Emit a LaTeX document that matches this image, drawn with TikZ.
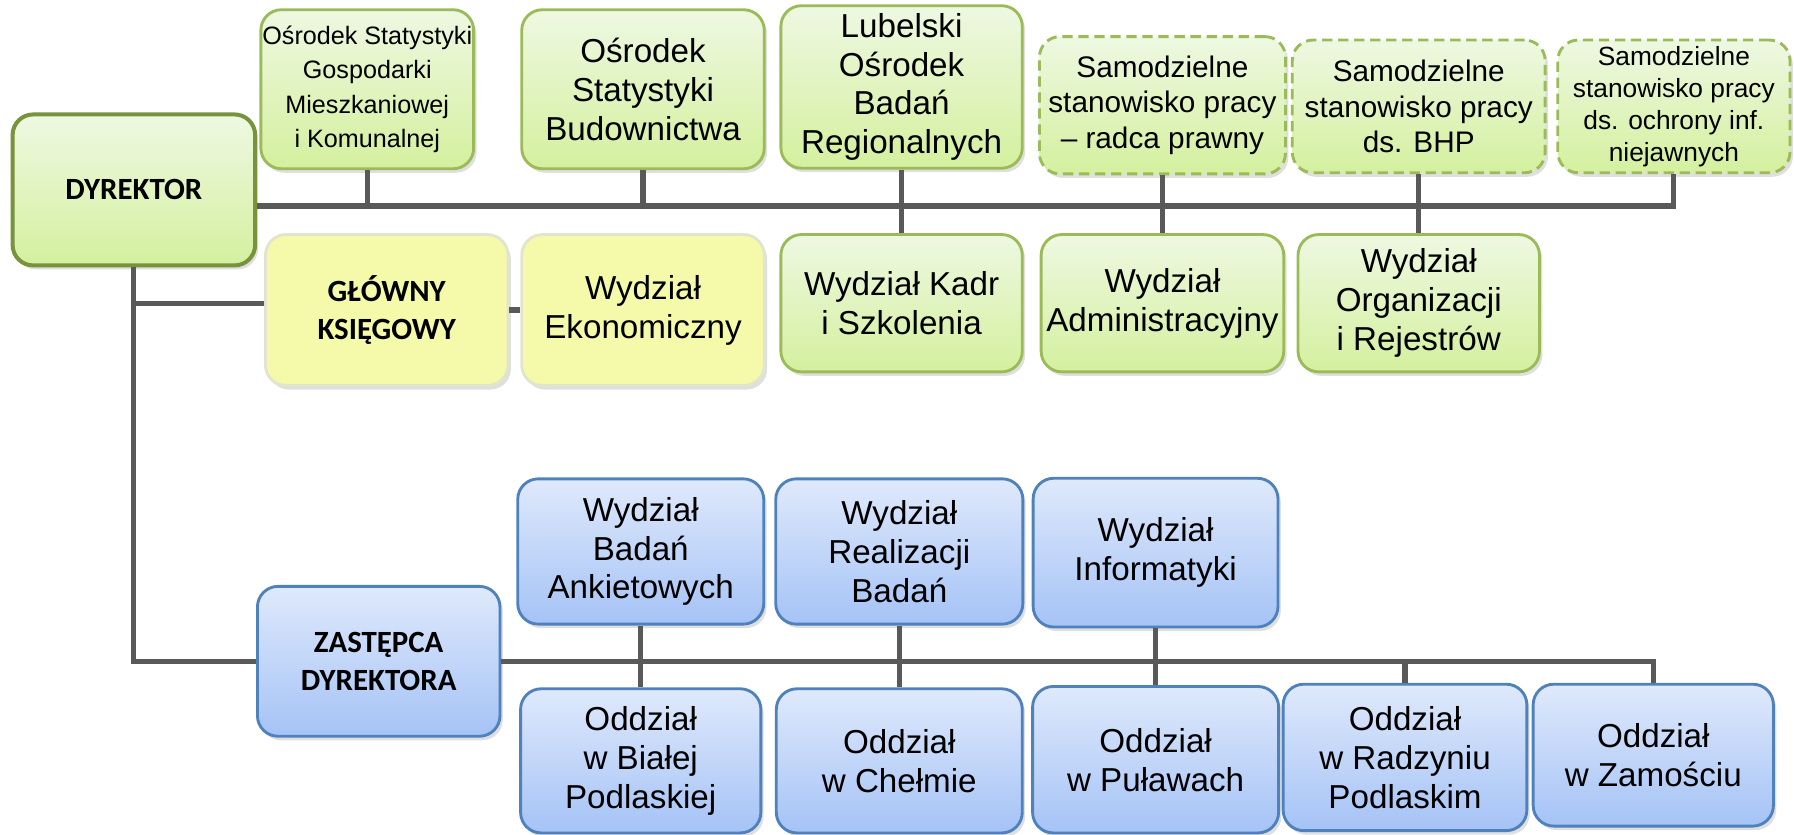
\documentclass[tikz,border=0pt]{standalone}
\usepackage{fontspec}
\setmainfont{Liberation Sans}
\newfontfamily\headfont{Carlito}
\usetikzlibrary{positioning, shadows}

\definecolor{greenline}{RGB}{155,187,89}
\definecolor{greendark}{RGB}{119,147,60}
\definecolor{greentop}{RGB}{238,248,226}
\definecolor{greenbot}{RGB}{212,240,158}
\definecolor{yellowfill}{RGB}{245,250,170}
\definecolor{yellowline}{RGB}{226,229,205}
\definecolor{blueline}{RGB}{79,129,189}
\definecolor{bluetop}{RGB}{223,233,251}
\definecolor{bluebot}{RGB}{165,195,246}
\definecolor{connline}{RGB}{89,89,89}

\begin{document}
\begin{tikzpicture}[
    x=1pt,
    y=-1pt,
    box/.style={rounded corners=18pt, align=center, inner sep=0pt,
        line width=2.5pt, font=\fontsize{29}{34}\selectfont,
        drop shadow={opacity=0.25, shadow xshift=2.5pt, shadow yshift=-3.5pt}},
    unit/.style={box, draw=greenline, top color=greentop, bottom color=greenbot},
    staff/.style={unit, dashed, dash pattern=on 9pt off 5pt},
    chief/.style={unit, draw=greendark, line width=3.5pt,
        font=\headfont\bfseries\fontsize{27}{33}\selectfont},
    acct/.style={box, draw=yellowline, fill=yellowfill,
        font=\headfont\bfseries\fontsize{27}{33}\selectfont},
    acctunit/.style={box, draw=yellowline, fill=yellowfill},
    branch/.style={box, draw=blueline, top color=bluetop, bottom color=bluebot},
    deputy/.style={branch, font=\headfont\bfseries\fontsize{27}{33}\selectfont},
    conn/.style={draw=connline, line width=4.5pt},
]
    \useasboundingbox (0,0) rectangle (1568,729);

    \node[chief,  minimum width=212pt, minimum height=132pt] (dyr)   at (117,166)  {DYREKTOR};

    \node[unit,   minimum width=186pt, minimum height=139pt,
          font=\fontsize{22}{30}\selectfont]                 (osg)   at (321,78)   {Ośrodek Statystyki\\Gospodarki\\Mieszkaniowej\\i Komunalnej};
    \node[unit,   minimum width=212pt, minimum height=139pt] (osb)   at (562,78)   {Ośrodek\\Statystyki\\Budownictwa};
    \node[unit,   minimum width=211pt, minimum height=142pt] (lobr)  at (788,76)   {Lubelski\\Ośrodek\\Badań\\Regionalnych};
    \node[staff,  minimum width=215pt, minimum height=120pt,
          font=\fontsize{26}{31}\selectfont]                 (radca) at (1016,92)  {Samodzielne\\stanowisko pracy\\– radca prawny};
    \node[staff,  minimum width=221pt, minimum height=116pt,
          font=\fontsize{26}{31}\selectfont]                 (bhp)   at (1240,93)  {Samodzielne\\stanowisko pracy\\ds. BHP};
    \node[staff,  minimum width=203pt, minimum height=116pt,
          font=\fontsize{23}{28}\selectfont]                 (ochr)  at (1463,93)  {Samodzielne\\stanowisko pracy\\ds. ochrony inf.\\niejawnych};

    \node[acct,     minimum width=212pt, minimum height=132pt] (gk)    at (338,271)  {GŁÓWNY\\KSIĘGOWY};
    \node[acctunit, minimum width=212pt, minimum height=132pt] (ekon)  at (562,271)  {Wydział\\Ekonomiczny};
    \node[unit,   minimum width=211pt, minimum height=120pt] (kadr)  at (788,265)  {Wydział Kadr\\i Szkolenia};
    \node[unit,   minimum width=212pt, minimum height=120pt] (adm)   at (1016,265) {Wydział\\Administracyjny};
    \node[unit,   minimum width=211pt, minimum height=120pt] (org)   at (1240,265) {Wydział\\Organizacji\\i Rejestrów};

    \node[deputy, minimum width=212pt, minimum height=131pt] (zast)  at (331,578)  {ZASTĘPCA\\DYREKTORA};
    \node[branch, minimum width=215pt, minimum height=127pt] (wba)   at (560,482)  {Wydział\\Badań\\Ankietowych};
    \node[branch, minimum width=216pt, minimum height=127pt] (wrb)   at (786,482)  {Wydział\\Realizacji\\Badań};
    \node[branch, minimum width=214pt, minimum height=130pt] (wi)    at (1010,483) {Wydział\\Informatyki};

    \node[branch, minimum width=210pt, minimum height=126pt] (obp)   at (560,665)  {Oddział\\w Białej\\Podlaskiej};
    \node[branch, minimum width=215pt, minimum height=126pt] (och)   at (786,665)  {Oddział\\w Chełmie};
    \node[branch, minimum width=215pt, minimum height=128pt] (opu)   at (1010,664) {Oddział\\w Puławach};
    \node[branch, minimum width=213pt, minimum height=128pt] (orp)   at (1228,662) {Oddział\\w Radzyniu\\Podlaskim};
    \node[branch, minimum width=210pt, minimum height=124pt] (oza)   at (1445,660) {Oddział\\w Zamościu};

    \coordinate (topbus) at (0,180);
    \coordinate (gkin) at ([yshift=6pt]gk.west);

    \draw[conn] (dyr.east |- topbus) -- (ochr.south |- topbus) -- (ochr.south);
    \draw[conn] (osg.south) -- (osg.south |- topbus);
    \draw[conn] (osb.south) -- (osb.south |- topbus);
    \draw[conn] (lobr.south) -- (kadr.north);
    \draw[conn] (radca.south) -- (adm.north);
    \draw[conn] (bhp.south) -- (org.north);
    \draw[conn] (dyr.south) -- (dyr.south |- zast.west) -- (zast.west);
    \draw[conn] (dyr.south |- gkin) -- (gkin);
    \draw[conn] (gk.east) -- (ekon.west);
    \draw[conn] (zast.east) -- (oza.north |- zast.east) -- (oza.north);
    \draw[conn] (wba.south) -- (obp.north);
    \draw[conn] (wrb.south) -- (och.north);
    \draw[conn] (wi.south) -- (opu.north);
    \draw[conn] (orp.north) -- (orp.north |- zast.east);
\end{tikzpicture}
\end{document}
